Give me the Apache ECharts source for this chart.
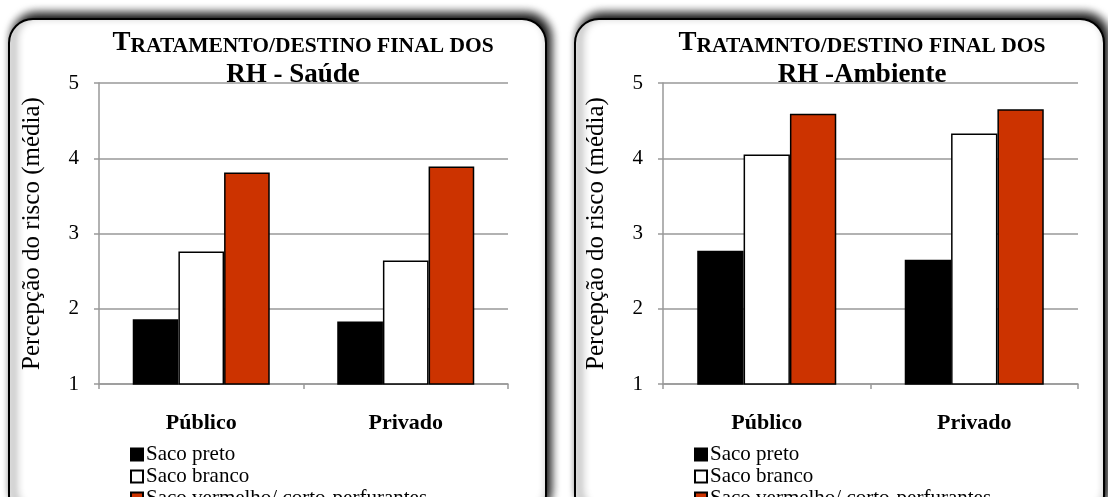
<!DOCTYPE html>
<html lang="pt">
<head>
  <meta charset="utf-8" />
  <script src="https://cdn.jsdelivr.net/npm/echarts@6/dist/echarts.min.js"></script>
</head>
<body style="margin: 0; background: #fff">
  <div id="container" style="width: 1108px; height: 497px"></div>
  <script>
    // data
    var categories = ["Público", "Privado"];
    var seriesNames = ["Saco preto", "Saco branco", "Saco vermelho/ corto-perfurantes"];
    var saudePreto = [1.86, 1.83];
    var saudeBranco = [2.76, 2.64];
    var saudeVermelho = [3.81, 3.89];
    var ambientePreto = [2.77, 2.65];
    var ambienteBranco = [4.05, 4.33];
    var ambienteVermelho = [4.59, 4.65];
    var yMin = 1, yMax = 5, yStep = 1;
    var yName = "Percepção do risco (média)";

    var serif = "'Liberation Serif', 'Times New Roman', serif";
    var colors = ["#000000", "#ffffff", "#cc3300"];
    var gridColor = "#999999";

    var myChart = echarts.init(document.getElementById("container"), null, { renderer: "canvas" });

    function panel(x, w) {
      return {
        type: "rect",
        z: -10,
        shape: { x: x, y: 19, width: w, height: 500, r: 24 },
        style: {
          fill: "#fff",
          stroke: "#000",
          lineWidth: 2,
          shadowBlur: 10,
          shadowOffsetX: 4,
          shadowOffsetY: -5,
          shadowColor: "rgba(0,0,0,1)"
        }
      };
    }

    function titleLine1(word, cx) {
      return {
        text: "{big|T}{sc|" + word + "}",
        left: cx,
        top: 25,
        textAlign: "center",
        textStyle: {
          rich: {
            big: { fontFamily: serif, fontWeight: "bold", fontSize: 27, color: "#000" },
            sc: { fontFamily: serif, fontWeight: "bold", fontSize: 21.5, color: "#000", verticalAlign: "bottom" }
          }
        }
      };
    }

    function titleLine2(text, cx) {
      return {
        text: text,
        left: cx,
        top: 57,
        textAlign: "center",
        textStyle: { fontFamily: serif, fontWeight: "bold", fontSize: 27, color: "#000" }
      };
    }

    function xAxisOf(i) {
      return {
        type: "category",
        gridIndex: i,
        data: categories,
        axisLine: { lineStyle: { color: gridColor, width: 1.5 } },
        axisTick: { show: true, length: 5, lineStyle: { color: gridColor, width: 1.5 } },
        axisLabel: { fontFamily: serif, fontWeight: "bold", fontSize: 22, color: "#000", margin: 28 }
      };
    }

    function yAxisOf(i) {
      return {
        type: "value",
        gridIndex: i,
        min: yMin,
        max: yMax,
        interval: yStep,
        name: yName,
        nameLocation: "middle",
        nameGap: 54,
        nameTextStyle: { fontFamily: serif, fontSize: 25, color: "#000" },
        axisLine: { show: true, lineStyle: { color: gridColor, width: 1.5 } },
        axisTick: { show: true, length: 5, lineStyle: { color: gridColor, width: 1.5 } },
        axisLabel: { fontFamily: serif, fontSize: 21, color: "#000", margin: 20 },
        splitLine: { lineStyle: { color: gridColor, width: 1.5 } }
      };
    }

    function barSeries(i, k, values) {
      return {
        name: seriesNames[k],
        type: "bar",
        xAxisIndex: i,
        yAxisIndex: i,
        data: values,
        barGap: "0%",
        barCategoryGap: "33%",
        itemStyle: { color: colors[k], borderColor: "#000", borderWidth: 1.5 }
      };
    }

    function legendAt(x) {
      return {
        orient: "vertical",
        left: x,
        top: 444,
        height: 120,
        padding: 0,
        icon: "rect",
        itemWidth: 12,
        itemHeight: 12,
        itemGap: 1,
        selectedMode: false,
        data: seriesNames,
        textStyle: { fontFamily: serif, fontSize: 21, color: "#000", padding: [0, 0, 0, -2] }
      };
    }

    var option = {
      animation: false,
      graphic: [panel(9, 537), panel(575, 529)],
      title: [
        titleLine1("RATAMENTO/DESTINO FINAL DOS", 298),
        titleLine2("RH - Saúde", 288),
        titleLine1("RATAMNTO/DESTINO FINAL DOS", 857),
        titleLine2("RH -Ambiente", 857)
      ],
      grid: [
        { left: 99, top: 83, width: 409, height: 301 },
        { left: 663, top: 83, width: 415, height: 301 }
      ],
      xAxis: [xAxisOf(0), xAxisOf(1)],
      yAxis: [yAxisOf(0), yAxisOf(1)],
      legend: [legendAt(130), legendAt(694)],
      series: [
        barSeries(0, 0, saudePreto),
        barSeries(0, 1, saudeBranco),
        barSeries(0, 2, saudeVermelho),
        barSeries(1, 0, ambientePreto),
        barSeries(1, 1, ambienteBranco),
        barSeries(1, 2, ambienteVermelho)
      ]
    };

    myChart.setOption(option);
  </script>
</body>
</html>
